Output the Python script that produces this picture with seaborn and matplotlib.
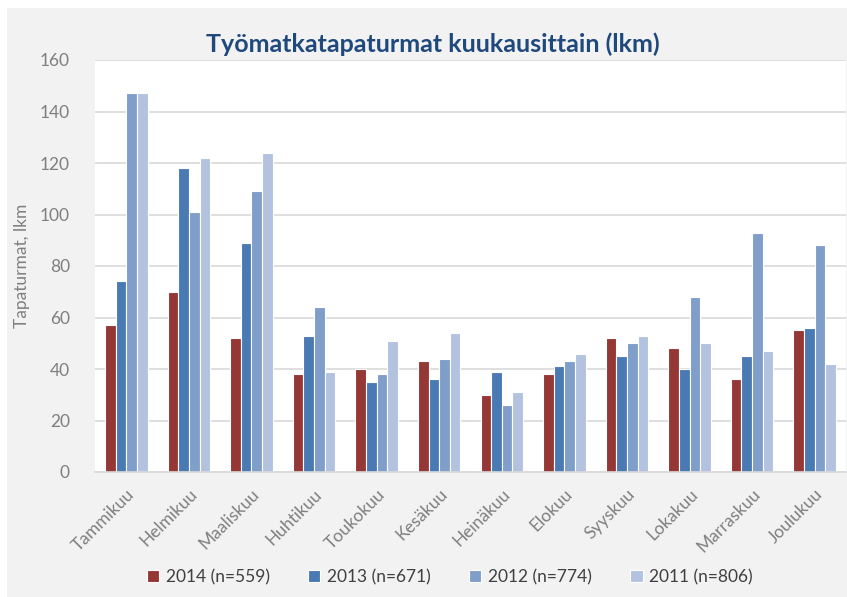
import pandas as pd
import matplotlib.pyplot as plt
import seaborn as sns
from matplotlib.patches import Rectangle

# Monthly commuting accidents
months = ['Tammikuu', 'Helmikuu', 'Maaliskuu', 'Huhtikuu', 'Toukokuu', 'Kesäkuu',
          'Heinäkuu', 'Elokuu', 'Syyskuu', 'Lokakuu', 'Marraskuu', 'Joulukuu']
series = ['2014 (n=559)', '2013 (n=671)', '2012 (n=774)', '2011 (n=806)']
v2014 = [57, 70, 52, 38, 40, 43, 30, 38, 52, 48, 36, 55]
v2013 = [74, 118, 89, 53, 35, 36, 39, 41, 45, 40, 45, 56]
v2012 = [147, 101, 109, 64, 38, 44, 26, 43, 50, 68, 93, 88]
v2011 = [147, 122, 124, 39, 51, 54, 31, 46, 53, 50, 47, 42]
yticks = [0, 20, 40, 60, 80, 100, 120, 140, 160]

colors = ['#953735', '#4a7ab4', '#7f9ec9', '#b3c3df']

df = pd.DataFrame({
    'Kuukausi': months * 4,
    'Vuosi': [s for s in series for _ in months],
    'Lkm': v2014 + v2013 + v2012 + v2011,
})

sns.set_style("white")
plt.rcParams['font.family'] = ['Lato', 'DejaVu Sans']

fig = plt.figure(figsize=(8.47, 5.97), dpi=100)
fig.patch.set_facecolor('white')
fig.patches.append(Rectangle((7 / 847, 0), 1, 1 - 8 / 597, transform=fig.transFigure,
                             facecolor='#f2f2f2', edgecolor='none', zorder=-10))

ax = fig.add_axes([95 / 847, 1 - 472 / 597, 751 / 847, 412 / 597])
ax.set_facecolor('white')

sns.barplot(data=df, x='Kuukausi', y='Lkm', hue='Vuosi', order=months,
            hue_order=series, palette=colors, width=0.68, ax=ax,
            edgecolor='white', linewidth=0.8, saturation=1, legend=True)

ax.set_ylim(0, 160)
ax.set_yticks(yticks)
ax.yaxis.grid(True, color='#d9d9d9', linewidth=1.2)
ax.set_axisbelow(True)
for side in ['top', 'right', 'left']:
    ax.spines[side].set_visible(False)
ax.spines['bottom'].set_color('#d9d9d9')
ax.spines['bottom'].set_linewidth(1.2)
ax.tick_params(axis='both', length=0, colors='#7f7f7f', labelsize=12.5)
ax.tick_params(axis='y', pad=18)
plt.setp(ax.get_xticklabels(), rotation=45, ha='right', rotation_mode='anchor')
ax.tick_params(axis='x', pad=10)

ax.set_xlabel('')
ax.set_ylabel('Tapaturmat, lkm', fontsize=12.5, color='#7f7f7f', labelpad=7)

fig.text(433 / 847, 1 - 44 / 597, 'Työmatkatapaturmat kuukausittain (lkm)',
         ha='center', va='center', fontsize=18, fontweight='bold', color='#1f497d')

handles, labels = ax.get_legend_handles_labels()
ax.get_legend().remove()
fig.legend(handles, labels, loc='center', bbox_to_anchor=(450 / 847, 1 - 577 / 597),
           ncol=4, frameon=False, fontsize=12.5, handlelength=0.7, handleheight=0.7,
           columnspacing=2.2, handletextpad=0.4, labelcolor='#404040')

fig.savefig('out.png', dpi=100)
